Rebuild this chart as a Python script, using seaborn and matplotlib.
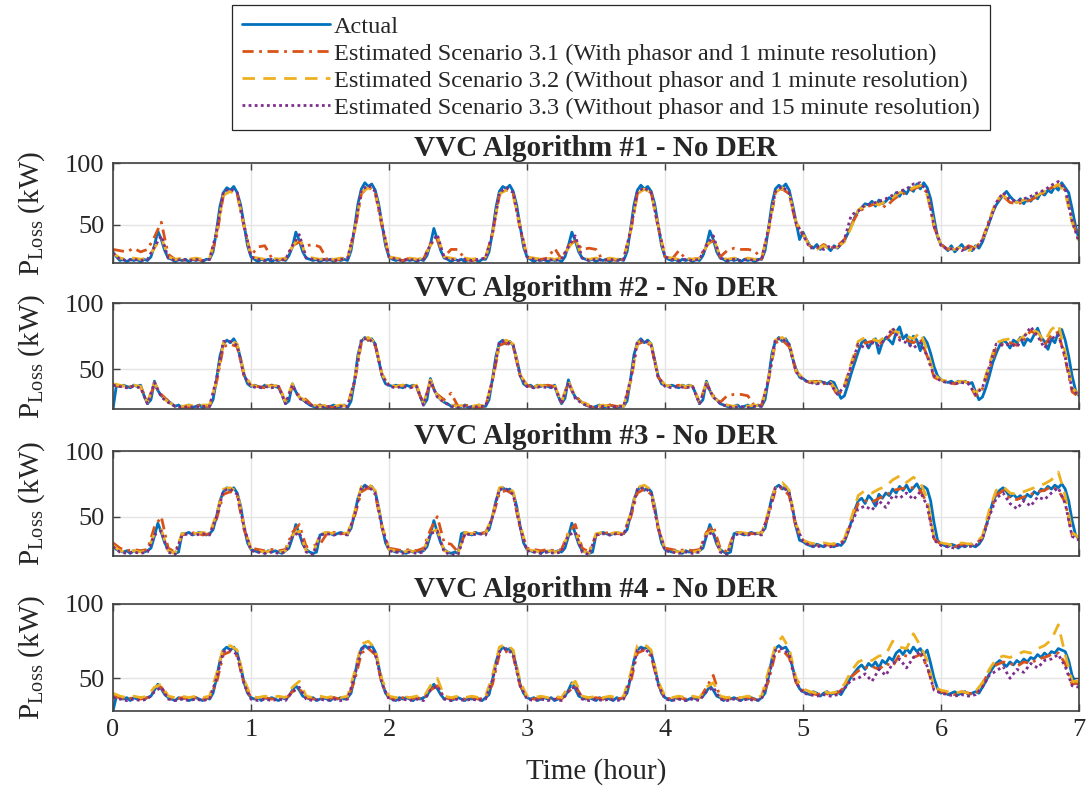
import numpy as np
import matplotlib
matplotlib.use("Agg")
import matplotlib.pyplot as plt
import seaborn as sns

# Power loss (kW), actual series sampled every 0.025 h, estimates every 0.05 h
P1_ACTUAL = [
    28, 24, 21, 22, 20, 22, 21, 22, 20, 22, 21, 24, 33, 45, 38, 29, 23, 22, 20, 22,
    21, 22, 20, 22, 21, 22, 20, 22, 22, 28, 45, 65, 76, 80, 78, 81, 76, 66, 50, 33,
    24, 22, 20, 22, 21, 22, 20, 22, 21, 22, 21, 25, 32, 44, 37, 28, 23, 22, 21, 22,
    20, 22, 21, 22, 20, 22, 21, 22, 21, 29, 47, 67, 79, 84, 81, 83, 78, 67, 50, 33,
    24, 22, 21, 22, 20, 22, 21, 22, 20, 22, 21, 25, 34, 47, 38, 29, 23, 22, 20, 22,
    21, 22, 20, 22, 21, 22, 20, 22, 22, 28, 44, 64, 77, 81, 79, 82, 77, 66, 49, 32,
    24, 22, 20, 22, 21, 22, 20, 22, 21, 22, 20, 24, 33, 44, 37, 28, 23, 22, 21, 22,
    20, 22, 21, 22, 20, 22, 21, 22, 21, 28, 46, 66, 78, 82, 79, 81, 77, 67, 50, 33,
    24, 22, 21, 22, 20, 22, 21, 22, 20, 22, 21, 25, 33, 45, 38, 28, 23, 22, 20, 22,
    21, 22, 20, 22, 21, 22, 20, 22, 22, 29, 47, 67, 79, 82, 80, 83, 78, 66, 52, 38,
    44, 38, 33, 31, 34, 30, 33, 32, 29, 33, 31, 34, 37, 43, 49, 56, 61, 64, 67, 66,
    69, 65, 70, 67, 69, 72, 70, 76, 73, 78, 75, 80, 77, 83, 79, 84, 80, 71, 55, 40,
    34, 32, 29, 33, 28, 31, 34, 30, 32, 29, 33, 31, 36, 44, 52, 60, 66, 70, 74, 77,
    73, 70, 68, 71, 67, 71, 69, 73, 71, 76, 74, 78, 76, 81, 78, 84, 80, 76, 63, 49,
    38,
]
P1_EST31 = [
    30, 29, 28, 31, 28, 30, 40, 52, 26, 22, 21, 22, 22, 21, 22, 40, 74, 77, 75, 48,
    25, 32, 33, 23, 22, 22, 33, 36, 33, 34, 32, 22, 21, 22, 23, 44, 75, 81, 76, 48,
    24, 22, 21, 23, 22, 22, 35, 38, 24, 30, 30, 22, 21, 22, 23, 43, 74, 78, 75, 47,
    24, 22, 22, 23, 31, 22, 33, 37, 30, 31, 30, 21, 22, 21, 22, 44, 75, 79, 76, 48,
    24, 22, 29, 22, 22, 23, 34, 37, 24, 29, 31, 30, 30, 29, 22, 45, 76, 79, 75, 50,
    42, 33, 30, 34, 31, 33, 38, 50, 60, 64, 66, 68, 64, 70, 74, 76, 79, 81, 76, 48,
    34, 30, 32, 29, 33, 31, 38, 54, 68, 73, 68, 67, 68, 70, 73, 76, 80, 82, 78, 55,
    36,
]
P1_EST32 = [
    27, 23, 22, 23, 22, 23, 31, 40, 24, 22, 23, 22, 23, 22, 23, 43, 74, 77, 74, 50,
    24, 23, 22, 23, 22, 23, 32, 40, 24, 23, 22, 23, 22, 23, 22, 45, 76, 80, 76, 51,
    24, 23, 22, 23, 22, 23, 33, 41, 24, 23, 22, 23, 22, 23, 24, 42, 75, 78, 74, 49,
    24, 23, 22, 23, 22, 23, 31, 39, 23, 22, 23, 22, 23, 22, 23, 44, 75, 79, 75, 50,
    24, 23, 22, 23, 22, 23, 32, 40, 24, 22, 23, 22, 23, 22, 23, 46, 76, 80, 75, 52,
    43, 32, 30, 33, 30, 32, 36, 48, 62, 65, 68, 66, 69, 72, 76, 77, 80, 82, 74, 50,
    33, 31, 30, 32, 29, 32, 37, 53, 70, 74, 69, 68, 70, 72, 74, 77, 79, 83, 76, 52,
    37,
]
P1_EST33 = [
    27, 22, 21, 22, 21, 22, 32, 41, 23, 21, 22, 21, 22, 21, 22, 44, 77, 79, 76, 49,
    24, 22, 21, 22, 21, 22, 33, 42, 23, 22, 21, 22, 21, 22, 23, 46, 78, 82, 77, 50,
    24, 22, 21, 22, 21, 22, 34, 42, 23, 22, 21, 22, 21, 22, 23, 43, 76, 80, 76, 48,
    24, 22, 21, 22, 21, 22, 32, 41, 23, 21, 22, 21, 22, 21, 22, 45, 77, 80, 76, 49,
    24, 22, 21, 22, 21, 22, 33, 41, 23, 21, 22, 21, 22, 21, 22, 47, 77, 81, 76, 51,
    42, 31, 32, 30, 33, 31, 38, 58, 61, 66, 67, 69, 71, 74, 77, 79, 83, 84, 77, 49,
    33, 30, 31, 29, 32, 30, 38, 52, 68, 76, 70, 69, 71, 73, 76, 78, 82, 85, 79, 53,
    36,
]

P2_ACTUAL = [
    20, 38, 37, 38, 37, 36, 38, 37, 38, 30, 24, 27, 41, 34, 30, 28, 26, 24, 22, 23,
    21, 22, 23, 21, 22, 23, 21, 22, 22, 27, 42, 60, 69, 72, 70, 73, 68, 58, 46, 39,
    37, 38, 37, 36, 38, 37, 38, 37, 36, 31, 24, 26, 39, 33, 29, 27, 25, 23, 22, 21,
    23, 22, 21, 22, 23, 21, 22, 23, 21, 26, 41, 61, 71, 74, 72, 73, 69, 57, 45, 39,
    38, 37, 38, 37, 36, 38, 37, 38, 37, 30, 23, 27, 43, 35, 30, 27, 25, 24, 22, 23,
    21, 22, 23, 21, 22, 21, 23, 22, 22, 27, 43, 60, 70, 72, 69, 71, 68, 58, 46, 39,
    37, 38, 36, 38, 37, 38, 37, 36, 38, 30, 24, 28, 42, 34, 29, 27, 25, 23, 22, 21,
    22, 23, 21, 22, 23, 22, 21, 22, 22, 26, 42, 61, 70, 73, 70, 72, 69, 57, 45, 39,
    38, 37, 38, 37, 36, 38, 37, 38, 37, 31, 24, 27, 41, 34, 29, 27, 24, 23, 22, 21,
    22, 23, 21, 22, 23, 21, 22, 23, 22, 27, 43, 62, 71, 74, 71, 73, 68, 58, 50, 44,
    43, 41, 40, 41, 39, 41, 40, 39, 41, 40, 34, 28, 30, 38, 47, 55, 63, 70, 72, 66,
    71, 73, 62, 70, 74, 72, 69, 78, 82, 73, 76, 68, 75, 72, 64, 74, 70, 62, 52, 45,
    42, 41, 40, 41, 39, 41, 40, 41, 39, 40, 33, 27, 29, 36, 45, 55, 62, 68, 72, 70,
    66, 72, 70, 74, 68, 73, 71, 76, 81, 74, 71, 65, 73, 70, 78, 80, 72, 60, 45, 34,
    30,
]
P2_EST31 = [
    38, 37, 38, 36, 37, 25, 38, 31, 26, 22, 22, 21, 23, 22, 22, 40, 67, 69, 67, 45,
    38, 37, 36, 38, 37, 26, 37, 30, 27, 22, 23, 22, 21, 22, 23, 40, 70, 72, 68, 46,
    38, 37, 38, 37, 36, 24, 40, 31, 27, 32, 22, 23, 22, 21, 22, 41, 68, 70, 67, 45,
    38, 36, 37, 38, 37, 25, 40, 29, 26, 22, 21, 22, 23, 22, 22, 40, 69, 71, 68, 44,
    38, 37, 38, 36, 37, 25, 39, 30, 25, 30, 31, 31, 30, 22, 23, 42, 70, 72, 67, 48,
    42, 40, 41, 39, 40, 30, 36, 52, 68, 70, 71, 69, 72, 78, 74, 72, 70, 73, 60, 44,
    41, 40, 39, 41, 40, 30, 35, 50, 66, 69, 70, 68, 72, 79, 76, 68, 76, 78, 58, 33,
    29,
]
P2_EST32 = [
    39, 38, 37, 38, 37, 25, 40, 30, 25, 23, 22, 23, 22, 23, 23, 41, 70, 72, 69, 47,
    38, 37, 38, 37, 38, 25, 39, 29, 26, 23, 22, 23, 22, 23, 22, 42, 72, 74, 70, 46,
    38, 37, 38, 37, 38, 24, 42, 30, 25, 23, 22, 23, 22, 23, 22, 42, 70, 72, 69, 46,
    38, 37, 38, 37, 38, 25, 41, 29, 25, 23, 22, 23, 22, 23, 22, 41, 70, 73, 69, 45,
    38, 37, 38, 37, 38, 25, 40, 29, 25, 23, 22, 23, 22, 23, 22, 43, 72, 74, 70, 49,
    43, 41, 40, 41, 40, 33, 38, 55, 71, 74, 73, 71, 75, 80, 77, 75, 73, 78, 64, 46,
    42, 41, 40, 41, 40, 32, 37, 54, 70, 72, 73, 71, 75, 80, 78, 71, 80, 84, 63, 36,
    31,
]
P2_EST33 = [
    38, 37, 36, 37, 36, 24, 40, 29, 25, 22, 21, 22, 21, 22, 22, 43, 71, 71, 68, 45,
    37, 36, 37, 36, 37, 24, 38, 28, 25, 22, 21, 22, 21, 22, 22, 41, 73, 73, 69, 45,
    37, 36, 37, 36, 37, 23, 41, 29, 25, 22, 21, 22, 21, 22, 22, 42, 71, 71, 68, 45,
    37, 36, 37, 36, 37, 24, 40, 28, 24, 22, 21, 22, 21, 22, 22, 42, 71, 72, 68, 44,
    37, 36, 37, 36, 37, 24, 39, 29, 24, 22, 21, 22, 21, 22, 22, 42, 73, 73, 69, 48,
    42, 40, 39, 40, 39, 31, 37, 53, 69, 66, 70, 68, 73, 81, 72, 70, 66, 70, 60, 45,
    41, 40, 39, 40, 39, 31, 36, 52, 69, 68, 69, 67, 74, 82, 75, 66, 73, 76, 59, 35,
    30,
]

P3_ACTUAL = [
    28, 25, 24, 23, 24, 22, 24, 23, 24, 23, 24, 26, 35, 45, 38, 30, 25, 23, 22, 23,
    37, 37, 38, 36, 37, 38, 37, 36, 37, 40, 50, 62, 69, 72, 70, 72, 68, 58, 42, 30,
    25, 24, 23, 24, 22, 24, 23, 24, 23, 22, 24, 26, 34, 44, 37, 29, 25, 23, 22, 23,
    36, 37, 38, 37, 36, 37, 38, 37, 37, 41, 52, 64, 71, 74, 72, 73, 69, 57, 42, 30,
    25, 24, 23, 24, 23, 22, 24, 23, 24, 23, 24, 27, 36, 47, 38, 30, 25, 23, 22, 23,
    22, 37, 38, 37, 36, 38, 37, 37, 38, 40, 50, 62, 70, 72, 70, 71, 68, 58, 43, 30,
    25, 24, 23, 24, 22, 24, 23, 24, 23, 24, 23, 26, 35, 45, 37, 29, 24, 23, 22, 23,
    36, 37, 38, 37, 36, 37, 38, 37, 37, 40, 51, 63, 70, 73, 70, 72, 69, 58, 42, 30,
    25, 24, 23, 24, 23, 22, 24, 23, 24, 23, 24, 26, 35, 44, 37, 29, 25, 23, 22, 23,
    37, 38, 37, 36, 37, 38, 37, 37, 38, 41, 53, 65, 72, 74, 71, 73, 68, 56, 42, 32,
    31, 29, 28, 27, 29, 28, 27, 29, 28, 27, 29, 28, 31, 38, 46, 55, 62, 64, 60, 66,
    63, 58, 67, 64, 68, 66, 71, 68, 73, 70, 74, 69, 72, 75, 70, 73, 71, 62, 45, 32,
    29, 28, 27, 29, 28, 26, 28, 27, 29, 28, 27, 29, 33, 42, 52, 61, 67, 70, 72, 69,
    65, 67, 64, 66, 63, 67, 65, 69, 67, 71, 70, 73, 71, 74, 72, 75, 71, 62, 47, 36,
    33,
]
P3_EST31 = [
    30, 26, 24, 25, 24, 25, 42, 50, 26, 23, 36, 37, 38, 36, 37, 48, 67, 69, 66, 40,
    26, 25, 24, 25, 24, 25, 38, 44, 27, 28, 29, 37, 38, 37, 37, 50, 69, 72, 67, 41,
    26, 25, 24, 25, 24, 26, 40, 50, 30, 29, 23, 37, 38, 37, 38, 49, 68, 70, 67, 41,
    26, 25, 24, 25, 24, 25, 38, 44, 26, 23, 36, 37, 38, 37, 37, 49, 68, 71, 67, 41,
    26, 25, 24, 25, 24, 25, 38, 43, 26, 23, 37, 38, 37, 37, 38, 51, 70, 72, 66, 41,
    32, 29, 28, 29, 28, 29, 32, 46, 60, 62, 61, 64, 66, 70, 71, 72, 72, 70, 60, 33,
    29, 28, 27, 29, 28, 29, 34, 52, 66, 70, 64, 63, 65, 67, 69, 70, 73, 70, 61, 36,
    33,
]
P3_EST32 = [
    28, 24, 23, 24, 23, 24, 37, 40, 24, 22, 37, 38, 37, 38, 37, 52, 71, 72, 69, 43,
    25, 24, 23, 24, 23, 24, 36, 39, 24, 22, 37, 38, 37, 38, 37, 53, 73, 75, 70, 43,
    25, 24, 23, 24, 23, 24, 38, 40, 24, 22, 22, 38, 37, 38, 37, 51, 72, 73, 69, 44,
    25, 24, 23, 24, 23, 24, 37, 39, 24, 22, 37, 38, 37, 38, 37, 52, 72, 74, 70, 43,
    25, 24, 23, 24, 23, 24, 37, 39, 24, 22, 37, 38, 37, 38, 37, 54, 73, 76, 70, 44,
    32, 30, 29, 30, 29, 30, 33, 49, 66, 70, 68, 71, 73, 78, 81, 76, 80, 76, 64, 34,
    30, 29, 28, 30, 29, 30, 35, 55, 70, 73, 68, 67, 69, 71, 73, 75, 78, 84, 66, 38,
    34,
]
P3_EST33 = [
    27, 23, 22, 23, 22, 23, 36, 39, 23, 21, 36, 37, 36, 37, 36, 50, 70, 71, 67, 42,
    24, 23, 22, 23, 22, 23, 35, 38, 23, 21, 36, 37, 36, 37, 36, 51, 72, 73, 68, 42,
    24, 23, 22, 23, 22, 23, 37, 39, 23, 21, 21, 37, 36, 37, 36, 50, 71, 71, 67, 42,
    24, 23, 22, 23, 22, 23, 36, 38, 23, 21, 36, 37, 36, 37, 36, 51, 71, 72, 68, 42,
    24, 23, 22, 23, 22, 23, 36, 38, 23, 21, 36, 37, 36, 37, 36, 52, 72, 73, 68, 43,
    31, 28, 27, 28, 27, 28, 31, 45, 56, 58, 55, 62, 57, 66, 64, 68, 63, 69, 58, 32,
    28, 27, 26, 28, 27, 28, 33, 50, 64, 68, 60, 56, 62, 58, 65, 63, 68, 72, 60, 35,
    32,
]

P4_ACTUAL = [
    28, 38, 37, 36, 37, 35, 37, 36, 37, 36, 37, 38, 42, 46, 43, 39, 37, 36, 35, 37,
    36, 37, 35, 36, 37, 36, 35, 37, 36, 40, 50, 62, 69, 71, 69, 71, 67, 58, 47, 40,
    37, 36, 37, 35, 37, 36, 37, 36, 35, 37, 36, 38, 42, 45, 42, 38, 37, 36, 37, 35,
    36, 37, 36, 35, 37, 36, 37, 36, 37, 40, 51, 63, 70, 72, 70, 72, 68, 58, 47, 40,
    37, 36, 35, 37, 36, 37, 36, 35, 37, 36, 37, 38, 43, 46, 43, 39, 36, 37, 35, 36,
    37, 36, 35, 37, 36, 37, 36, 35, 37, 39, 49, 61, 68, 71, 69, 70, 67, 57, 46, 40,
    37, 36, 37, 35, 36, 37, 36, 37, 35, 36, 37, 38, 42, 47, 43, 38, 37, 36, 37, 36,
    35, 37, 36, 37, 36, 35, 37, 36, 37, 40, 50, 62, 69, 71, 70, 71, 67, 58, 47, 40,
    37, 36, 35, 37, 36, 37, 35, 36, 37, 36, 37, 38, 41, 45, 42, 38, 37, 35, 37, 36,
    37, 36, 35, 37, 36, 37, 36, 35, 37, 40, 51, 63, 70, 72, 70, 71, 67, 57, 48, 43,
    41, 40, 39, 41, 40, 38, 40, 41, 39, 40, 41, 39, 43, 47, 51, 54, 57, 59, 56, 60,
    58, 61, 57, 62, 60, 64, 62, 67, 69, 66, 70, 67, 71, 68, 70, 66, 69, 60, 50, 43,
    40, 41, 39, 40, 41, 39, 40, 41, 39, 40, 41, 40, 44, 48, 53, 57, 60, 62, 60, 58,
    61, 59, 62, 60, 63, 61, 64, 63, 66, 64, 67, 65, 68, 67, 70, 69, 68, 62, 52, 47,
    46,
]
P4_EST31 = [
    38, 37, 36, 37, 36, 37, 41, 44, 37, 36, 37, 36, 37, 36, 37, 47, 66, 68, 65, 46,
    37, 36, 37, 36, 37, 36, 41, 43, 37, 36, 37, 36, 37, 36, 37, 48, 67, 70, 66, 46,
    37, 36, 37, 36, 37, 36, 42, 45, 37, 36, 37, 36, 37, 36, 37, 46, 66, 68, 65, 45,
    37, 36, 37, 36, 37, 36, 41, 45, 37, 36, 37, 36, 37, 36, 37, 47, 67, 69, 65, 46,
    37, 36, 37, 36, 37, 36, 44, 52, 37, 36, 37, 36, 37, 36, 37, 48, 67, 69, 64, 47,
    42, 40, 39, 40, 39, 40, 44, 51, 55, 57, 58, 56, 60, 58, 66, 65, 64, 66, 58, 42,
    41, 40, 39, 41, 40, 39, 46, 55, 59, 61, 60, 58, 61, 60, 63, 64, 66, 67, 60, 46,
    47,
]
P4_EST32 = [
    40, 38, 37, 38, 37, 38, 44, 46, 38, 37, 38, 37, 38, 37, 38, 53, 71, 72, 69, 49,
    38, 37, 38, 37, 38, 37, 44, 48, 38, 37, 38, 37, 38, 37, 38, 54, 73, 75, 70, 49,
    38, 37, 38, 37, 38, 37, 45, 50, 38, 37, 38, 37, 38, 37, 38, 52, 71, 73, 69, 48,
    38, 37, 38, 37, 38, 37, 44, 48, 38, 37, 38, 37, 38, 37, 38, 53, 72, 73, 69, 48,
    38, 37, 38, 37, 38, 37, 44, 47, 38, 37, 38, 37, 38, 37, 38, 55, 72, 78, 70, 50,
    43, 41, 40, 41, 40, 41, 46, 55, 61, 63, 62, 65, 66, 75, 71, 70, 80, 72, 62, 44,
    42, 41, 40, 41, 40, 41, 47, 56, 63, 65, 64, 66, 68, 67, 70, 72, 76, 86, 66, 48,
    48,
]
P4_EST33 = [
    37, 36, 35, 36, 35, 36, 41, 44, 36, 35, 36, 35, 36, 35, 36, 50, 68, 69, 66, 46,
    36, 35, 36, 35, 36, 35, 41, 44, 36, 35, 36, 35, 36, 35, 36, 51, 70, 71, 67, 46,
    36, 35, 36, 35, 36, 35, 42, 45, 36, 35, 36, 35, 36, 35, 36, 49, 68, 70, 66, 45,
    36, 35, 36, 35, 36, 35, 41, 45, 36, 35, 36, 35, 36, 35, 36, 50, 69, 70, 66, 46,
    36, 35, 36, 35, 36, 35, 41, 44, 36, 35, 36, 35, 36, 35, 36, 51, 69, 70, 66, 47,
    40, 39, 38, 39, 38, 39, 43, 49, 50, 53, 48, 56, 52, 60, 63, 57, 64, 68, 58, 42,
    40, 39, 38, 39, 38, 39, 44, 52, 55, 58, 50, 56, 54, 60, 57, 62, 63, 66, 58, 45,
    44,
]

TITLES = [
    "VVC Algorithm #1 - No DER",
    "VVC Algorithm #2 - No DER",
    "VVC Algorithm #3 - No DER",
    "VVC Algorithm #4 - No DER",
]
SERIES_LABELS = [
    "Actual",
    "Estimated Scenario 3.1 (With phasor and 1 minute resolution)",
    "Estimated Scenario 3.2 (Without phasor and 1 minute resolution)",
    "Estimated Scenario 3.3 (Without phasor and 15 minute resolution)",
]
PANELS = [
    (P1_ACTUAL, P1_EST31, P1_EST32, P1_EST33),
    (P2_ACTUAL, P2_EST31, P2_EST32, P2_EST33),
    (P3_ACTUAL, P3_EST31, P3_EST32, P3_EST33),
    (P4_ACTUAL, P4_EST31, P4_EST32, P4_EST33),
]
Y_LOWER = [19, 20, 20, 28]
X_TICKS = [0, 1, 2, 3, 4, 5, 6, 7]
Y_TICKS = [50, 100]

COLORS = ["#0072BD", "#D95319", "#EDB120", "#7E2F8E"]
STYLES = ["-", (0, (4, 2, 1, 2)), (0, (4.5, 3)), (0, (1, 1.2))]

sns.set_style("ticks")
plt.rcParams["font.family"] = ["Liberation Serif", "DejaVu Serif"]
plt.rcParams["mathtext.fontset"] = "custom"
plt.rcParams["mathtext.rm"] = "Liberation Serif"
plt.rcParams["mathtext.it"] = "Liberation Serif:italic"
plt.rcParams["mathtext.bf"] = "Liberation Serif:bold"

W, H = 1087, 790
fig = plt.figure(figsize=(W / 100, H / 100), dpi=100)
frames = [(163, 263), (303, 409), (451, 556), (604, 711)]
left, right = 113, 1079

axes = []
for i, (series, ylo) in enumerate(zip(PANELS, Y_LOWER)):
    top, bot = frames[i]
    ax = fig.add_axes([left / W, 1 - bot / H, (right - left) / W, (bot - top) / H])
    axes.append(ax)
    for vals, c, ls in zip(series, COLORS, STYLES):
        t = np.linspace(0, 7, len(vals))
        sns.lineplot(x=t, y=vals, ax=ax, color=c, lw=2.0, legend=False)
        ax.lines[-1].set_linestyle(ls)
    ax.set_xlim(0, 7)
    ax.set_ylim(ylo, 100)
    ax.set_xticks(X_TICKS)
    ax.set_yticks(Y_TICKS)
    ax.grid(True, color="#e4e4e4", lw=1.0)
    ax.set_axisbelow(True)
    ax.tick_params(direction="in", top=True, right=True, length=5, width=1.0,
                   color="#404040", labelcolor="#262626", labelsize=19, pad=6)
    ax.tick_params(labelbottom=(i == 3))
    for sp in ax.spines.values():
        sp.set_color("#404040")
        sp.set_linewidth(1.2)
    ax.set_title(TITLES[i], fontsize=21, fontweight="bold", pad=5)
    ax.set_ylabel(r"$\mathrm{P_{Loss}}$ (kW)", fontsize=21)
    ax.yaxis.set_label_coords(-0.068, 0.5)
    ax.set_xlabel("")

axes[-1].set_xlabel("Time (hour)", fontsize=21, labelpad=12)

handles = axes[0].lines[:4]
leg = fig.legend(handles, SERIES_LABELS, loc="upper center",
                 bbox_to_anchor=(611 / W, 1 - 5 / H), fontsize=17.5,
                 frameon=True, fancybox=False, framealpha=1, edgecolor="#262626",
                 handlelength=3.6, handletextpad=0.15, labelspacing=0.2,
                 borderpad=0.45, borderaxespad=0)
leg.get_frame().set_linewidth(0.9)

fig.savefig("out.png", dpi=100)
